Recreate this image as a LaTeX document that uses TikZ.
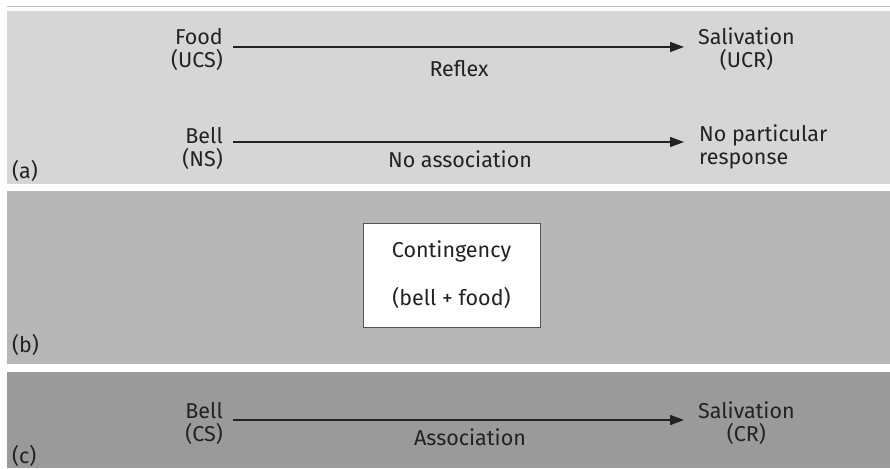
\documentclass[tikz,border=0pt]{standalone}
\usepackage{fontspec}
\setmainfont{Fira Sans}
\usetikzlibrary{arrows.meta}
\definecolor{panelA}{HTML}{D6D6D6}
\definecolor{panelB}{HTML}{B7B7B7}
\definecolor{panelC}{HTML}{9A9A9A}
\definecolor{ink}{HTML}{222222}
\definecolor{rule}{HTML}{BDBDBD}
\definecolor{boxline}{HTML}{555555}
\begin{document}
\begin{tikzpicture}[x=1pt,y=-1pt,
  font=\fontsize{21.5}{23}\selectfont, text=ink,
  panel/.style={fill=#1, draw=none},
  txt/.style={inner sep=0pt, align=center},
  ltxt/.style={inner sep=0pt, align=left},
  rtxt/.style={inner sep=0pt, align=right},
  arr/.style={draw=ink, line width=1.5pt, -{Triangle[length=14pt,width=10pt]}},
  ctbox/.style={draw=boxline, line width=1pt, fill=white, inner sep=0pt,
    minimum width=177pt, minimum height=104pt, align=center}]
  % canvas and panels
  \fill[white] (0,0) rectangle (890,468);
  \useasboundingbox (0,0) rectangle (890,468);
  \draw[rule, line width=1pt] (7,7) -- (890,7);
  \path[panel=panelA] (7,11) rectangle (890,184);
  \path[panel=panelB] (7,191) rectangle (890,364);
  \path[panel=panelC] (7,372) rectangle (890,468);

  % (a) unconditioned reflex and neutral stimulus
  \node[rtxt, anchor=east] (food) at (223,49) {Food\\(UCS)};
  \node[txt, anchor=west] (saliv1) at (698,49) {Salivation\\(UCR)};
  \coordinate (r1s) at (233,47);
  \coordinate (r1e) at (684,47);
  \draw[arr] (r1s) -- (r1e);
  \node[txt] (reflex) at (459,69) {Reflex};

  \node[rtxt, anchor=east] (bell1) at (223,148) {Bell\\(NS)};
  \node[ltxt, anchor=west] (noresp) at (699,147) {No particular\\response};
  \coordinate (r2s) at (233,142);
  \coordinate (r2e) at (684,142);
  \draw[arr] (r2s) -- (r2e);
  \node[txt] (noassoc) at (460,159) {No association};
  \node[txt, anchor=west] (la) at (12,171) {(a)};

  % (b) pairing of bell and food
  \node[ctbox] (cont) at (451.5,275) {Contingency\\[25pt](bell + food)};
  \node[txt, anchor=west] (lb) at (12,345) {(b)};

  % (c) conditioned response
  \node[rtxt, anchor=east] (bell2) at (223,423) {Bell\\(CS)};
  \node[txt, anchor=west] (saliv2) at (698,423) {Salivation\\(CR)};
  \coordinate (r3s) at (233,420);
  \coordinate (r3e) at (684,420);
  \draw[arr] (r3s) -- (r3e);
  \node[txt] (assoc) at (470,437) {Association};
  \node[txt, anchor=west] (lc) at (12,455.5) {(c)};
\end{tikzpicture}
\end{document}
